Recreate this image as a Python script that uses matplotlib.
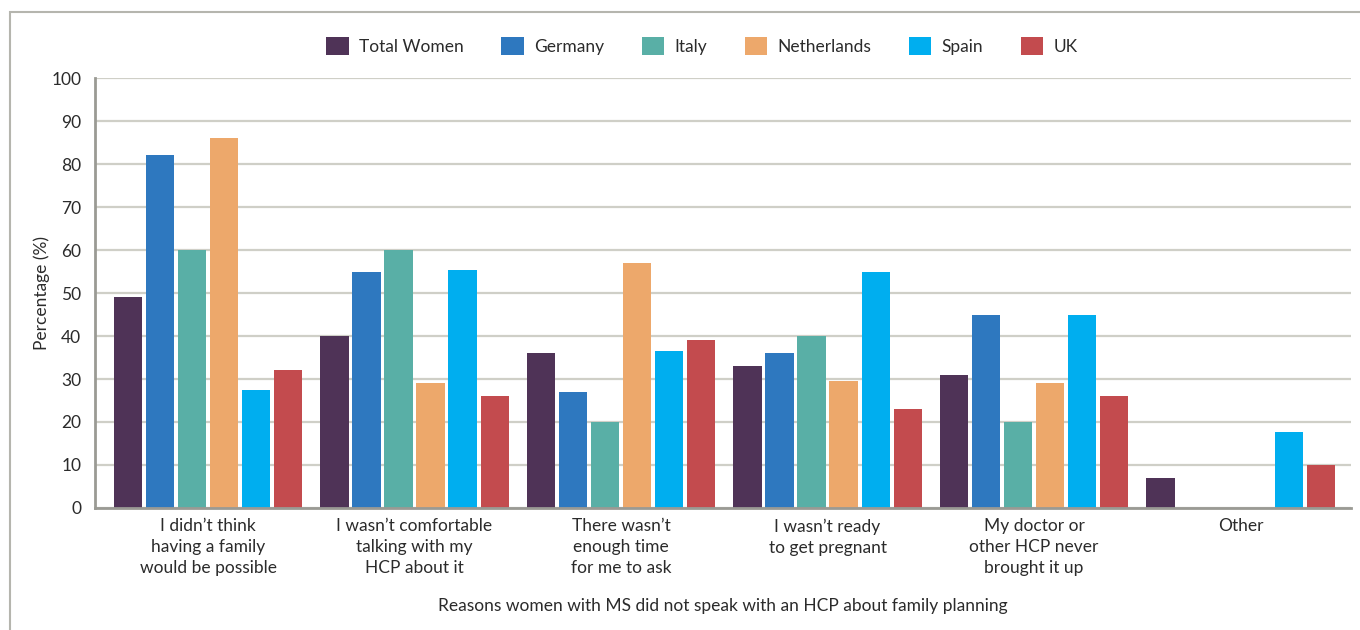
import numpy as np
import matplotlib
matplotlib.use('Agg')
from matplotlib import pyplot as plt
from matplotlib.patches import Rectangle

plt.rcParams['font.family'] = ['Lato', 'DejaVu Sans']

categories = ["I didn\u2019t think\nhaving a family\nwould be possible",
              "I wasn\u2019t comfortable\ntalking with my\nHCP about it",
              "There wasn\u2019t\nenough time\nfor me to ask",
              "I wasn\u2019t ready\nto get pregnant",
              "My doctor or\nother HCP never\nbrought it up",
              "Other"]

series = ["Total Women", "Germany", "Italy", "Netherlands", "Spain", "UK"]

total_women = [49, 40, 36, 33, 31, 7]
germany = [82, 55, 27, 36, 45, 0]
italy = [60, 60, 20, 40, 20, 0]
netherlands = [86, 29, 57, 29.5, 29, 0]
spain = [27.5, 55.3, 36.5, 55, 45, 17.7]
uk = [32, 26, 39, 23, 26, 10]

values = [total_women, germany, italy, netherlands, spain, uk]
colors = ['#4f3357', '#2e78bf', '#59afa6', '#eda86b', '#00aeef', '#c34b4e']

fig = plt.figure(figsize=(13.6, 6.3), dpi=100)
ax = fig.add_axes([0.0699, 0.1937, 0.9235, 0.6823])

x = np.arange(len(categories))
step = 0.155
width = 0.136
for i, (name, vals, c) in enumerate(zip(series, values, colors)):
    ax.bar(x + (i - 2.5) * step, vals, width, color=c, label=name, zorder=3)

ax.set_xlim(-0.547, 5.535)
ax.set_ylim(0, 100)
ax.set_yticks(range(0, 101, 10))
ax.set_xticks(x)
ax.set_xticklabels(categories, fontsize=12.5, color='#2b2b2b', linespacing=1.38)
ax.tick_params(axis='y', length=0, labelsize=12.5, labelcolor='#2b2b2b', pad=10)
ax.tick_params(axis='x', length=0, pad=7.5)
ax.grid(axis='y', color='#cfcfc7', linewidth=1.6, zorder=0)
for s in ['top', 'right']:
    ax.spines[s].set_visible(False)
for s in ['left', 'bottom']:
    ax.spines[s].set_color('#9a9a94')
    ax.spines[s].set_linewidth(2)
ax.spines['bottom'].set_zorder(4)

ax.set_ylabel('Percentage (%)', fontsize=12.5, color='#2b2b2b', labelpad=1)
ax.set_xlabel('Reasons women with MS did not speak with an HCP about family planning',
              fontsize=12.5, color='#2b2b2b', labelpad=16)

ax.legend(loc='center', bbox_to_anchor=(702 / 1360, 1 - 46 / 630),
          bbox_transform=fig.transFigure, ncol=6, frameon=False,
          fontsize=12.5, handlelength=1.3, handleheight=1.3,
          columnspacing=2.15, handletextpad=0.6, labelcolor='#2b2b2b')

# outer frame of the panel (top and left edges only visible)
fig.add_artist(Rectangle((10 / 1360, -0.1), 1.2, 1.1 - 12 / 630,
                         transform=fig.transFigure, fill=False,
                         edgecolor='#b5b5ae', linewidth=1.5))

plt.savefig('out.png', dpi=100)
